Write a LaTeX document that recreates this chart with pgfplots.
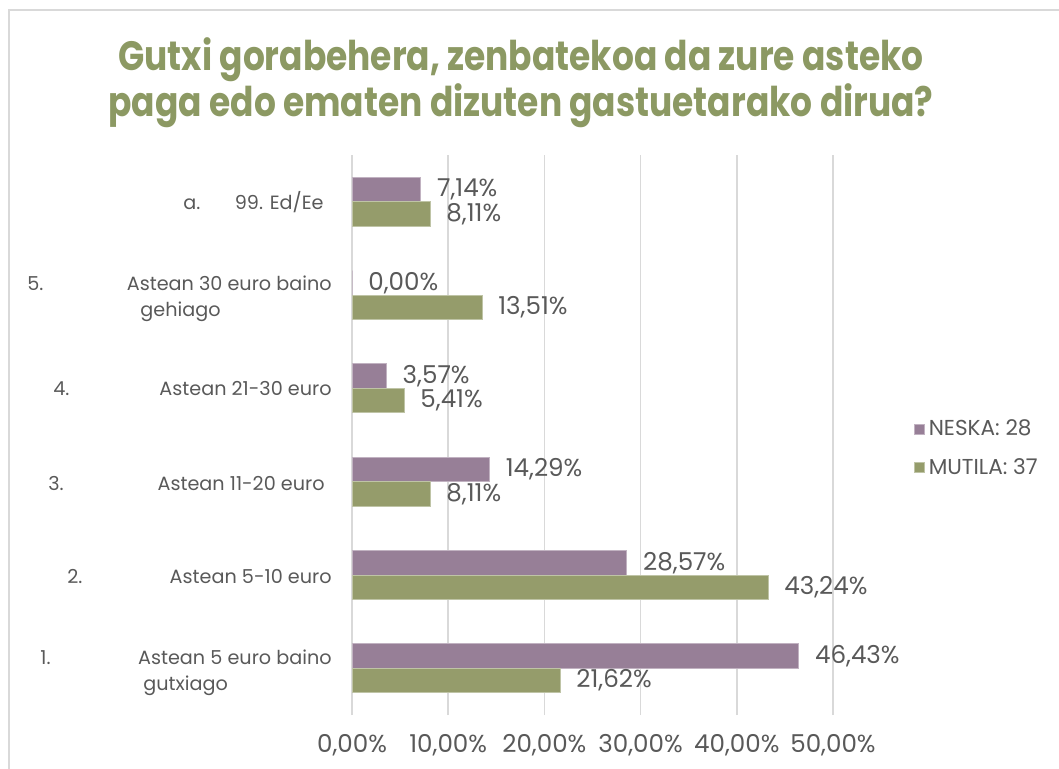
\documentclass[border=0pt]{standalone}
\usepackage{pgfplots}
\pgfplotsset{compat=1.18}
\usepackage{fontspec}
\setmainfont{Poppins}
\newfontfamily\titlefont[FakeStretch=0.84]{Poppins}
\definecolor{neska}{HTML}{977F97}
\definecolor{mutila}{HTML}{959C6B}
\definecolor{titlec}{HTML}{8C9963}
\definecolor{txt}{HTML}{595959}
\definecolor{gridc}{HTML}{D9D9D9}
\begin{document}
\begin{tikzpicture}[x=0.5pt,y=-0.5pt]
\path[use as bounding box] (0,0) rectangle (1059,769);
\draw[gridc, line width=1pt] (9,769) -- (9,10) -- (1059,10);
\node[titlec, font=\titlefont\bfseries\fontsize{20.5}{23.2}\selectfont, align=center] at (521,83)
  {Gutxi gorabehera, zenbatekoa da zure asteko\\paga edo ematen dizuten gastuetarako dirua?};
\begin{axis}[
  at={(176pt,-357.5pt)}, anchor=south west,
  scale only axis, width=240.5pt, height=280pt,
  xmin=0, xmax=50, ymin=-0.5, ymax=5.5,
  xbar, bar width=0.2625,
  /pgf/number format/assume math mode=true,
  xtick={0,10,20,30,40,50},
  xticklabels={{0,00\%},{10,00\%},{20,00\%},{30,00\%},{40,00\%},{50,00\%}},
  ytick={0,1,2,3,4,5},
  yticklabels={},
  xmajorgrids, major grid style={gridc, line width=0.75pt},
  axis line style={draw=none}, tick style={draw=none},
  xticklabel style={font=\fontsize{12.3}{14}\selectfont, text=txt, yshift=-6pt},
  clip=false,
  nodes near coords={\pgfmathprintnumber[fixed,fixed zerofill,precision=2,use comma,assume math mode=true]{\pgfplotspointmeta}\%},
  nodes near coords style={font=\fontsize{12.3}{14}\selectfont, text=txt, anchor=west, inner sep=0pt, xshift=8pt},
  legend style={at={(1.155,0.476)}, anchor=west, draw=none, fill=none,
    font=\fontsize{10.8}{12}\selectfont, text=txt, row sep=6pt,
    legend cell align=left},
  legend image code/.code={\fill[#1] (0pt,-2.5pt) rectangle (5pt,2.5pt);},
]
\addplot[fill=neska, draw=neska!60!white, line width=0.4pt, bar shift=0.13125]
  coordinates {(46.43,0) (28.57,1) (14.29,2) (3.57,3) (0.00,4) (7.14,5)};
\addlegendentry{NESKA: 28}
\addplot[fill=mutila, draw=mutila!60!white, line width=0.4pt, bar shift=-0.13125]
  coordinates {(21.62,0) (43.24,1) (8.11,2) (5.41,3) (13.51,4) (8.11,5)};
\addlegendentry{MUTILA: 37}
\end{axis}
\begin{scope}[every node/.style={text=txt, font=\fontsize{9.6}{13}\selectfont, inner sep=0pt}]
\node[anchor=base east] at (324,210) {99. Ed/Ee};
\node[anchor=base west] at (183,210) {a.};
\node[anchor=base east] at (332,291) {Astean 30 euro baino};
\node[anchor=base west] at (140,317) {gehiago};
\node[anchor=base west] at (27,291) {5.};
\node[anchor=base east] at (332,396) {Astean 21-30 euro};
\node[anchor=base west] at (53,396) {4.};
\node[anchor=base east] at (325,490) {Astean 11-20 euro};
\node[anchor=base west] at (48,490) {3.};
\node[anchor=base east] at (332,583) {Astean 5-10 euro};
\node[anchor=base west] at (67,583) {2.};
\node[anchor=base east] at (332,664) {Astean 5 euro baino};
\node[anchor=base west] at (143,690) {gutxiago};
\node[anchor=base west] at (40,664) {1.};
\end{scope}
\end{tikzpicture}
\end{document}
